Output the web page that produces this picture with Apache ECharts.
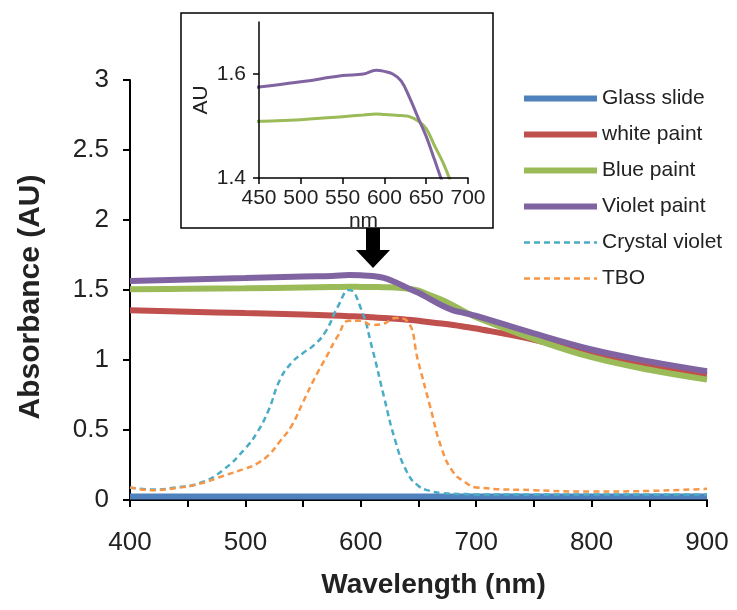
<!DOCTYPE html>
<html>
<head>
<meta charset="utf-8">
<script src="https://cdn.jsdelivr.net/npm/echarts@6/dist/echarts.min.js"></script>
<style>
  html, body { margin: 0; padding: 0; background: #fff; }
  #chart { width: 737px; height: 610px; }
</style>
</head>
<body>
<div id="chart"></div>
<script>
// wavelengths (nm) for the paint spectra
const paintWl = [400, 450, 500, 550, 575, 590, 600, 610, 620, 630, 640, 650, 660, 670, 680, 690, 700, 750, 800, 850, 900];
const whitePaint = [1.355, 1.345, 1.335, 1.325, 1.318, 1.313, 1.31, 1.305, 1.3, 1.295, 1.288, 1.28, 1.27, 1.26, 1.25, 1.238, 1.225, 1.145, 1.05, 0.965, 0.895];
const bluePaint = [1.505, 1.509, 1.512, 1.518, 1.521, 1.523, 1.522, 1.521, 1.52, 1.518, 1.51, 1.495, 1.462, 1.43, 1.39, 1.345, 1.305, 1.15, 1.02, 0.93, 0.86];
const violetPaint = [1.565, 1.575, 1.585, 1.597, 1.6, 1.607, 1.605, 1.6, 1.587, 1.555, 1.517, 1.48, 1.435, 1.39, 1.355, 1.335, 1.315, 1.19, 1.075, 0.99, 0.92];

const glassWl = [400, 500, 600, 700, 800, 900];
const glassSlide = [0.025, 0.025, 0.025, 0.025, 0.025, 0.025];

// wavelengths (nm) for the dye spectra
const dyeWl = [400, 420, 440, 460, 480, 500, 510, 520, 530, 540, 550, 560, 570, 580, 590, 600, 610, 620, 630, 640, 650, 660, 670, 680, 690, 700, 750, 800, 850, 900];
const crystalViolet = [0.09, 0.075, 0.09, 0.12, 0.21, 0.37, 0.48, 0.64, 0.86, 0.98, 1.05, 1.11, 1.21, 1.38, 1.5, 1.37, 1.08, 0.74, 0.42, 0.2, 0.1, 0.065, 0.05, 0.045, 0.042, 0.04, 0.04, 0.04, 0.04, 0.04];
const tbo = [0.09, 0.07, 0.085, 0.115, 0.17, 0.225, 0.26, 0.32, 0.42, 0.53, 0.7, 0.87, 1.02, 1.17, 1.28, 1.28, 1.25, 1.26, 1.3, 1.28, 0.98, 0.67, 0.37, 0.2, 0.13, 0.09, 0.07, 0.06, 0.065, 0.08];

const seriesNames = ['Glass slide', 'white paint', 'Blue paint', 'Violet paint', 'Crystal violet', 'TBO'];
const colors = ['#4F81BD', '#C0504D', '#9BBB59', '#8064A2', '#4BACC6', '#F79646'];

const zip = (xs, ys) => xs.map((x, i) => [x, ys[i]]);
const font = "'Liberation Sans', Arial, sans-serif";

let chart = echarts.init(document.getElementById('chart'));

let solid = function (name, color, xs, ys) {
  return {
    name: name, type: 'line', data: zip(xs, ys),
    symbol: 'none', smooth: 0.4,
    lineStyle: { color: color, width: 6 }, itemStyle: { color: color }
  };
};
let dashed = function (name, color, xs, ys) {
  return {
    name: name, type: 'line', data: zip(xs, ys),
    symbol: 'none', smooth: 0.5,
    lineStyle: { color: color, width: 2.5, type: [6, 4] }, itemStyle: { color: color }
  };
};
let inset = function (name, color, xs, ys) {
  return {
    name: name, type: 'line', data: zip(xs, ys),
    xAxisIndex: 1, yAxisIndex: 1,
    symbol: 'none', smooth: 0.4, z: 5,
    lineStyle: { color: color, width: 3 }, itemStyle: { color: color }
  };
};

let option = {
  animation: false,
  textStyle: { fontFamily: font },
  grid: [
    { left: 130, right: 30, top: 80, bottom: 110 },
    { left: 259, top: 22, width: 209, height: 156, z: 5 }
  ],
  legend: {
    data: seriesNames,
    orient: 'vertical',
    left: 516, top: 83,
    itemWidth: 73, itemHeight: 16, itemGap: 15,
    lineStyle: { width: 'inherit' },
    itemStyle: { opacity: 0, borderWidth: 0 },
    textStyle: { fontSize: 21, color: '#222', fontFamily: font }
  },
  xAxis: [
    {
      type: 'value', min: 400, max: 900, interval: 50,
      name: 'Wavelength (nm)', nameLocation: 'middle', nameGap: 71,
      nameTextStyle: { fontSize: 28, fontWeight: 'bold', color: '#222', fontFamily: font, padding: [0, 0, 0, 30] },
      axisLine: { lineStyle: { color: '#000', width: 2 } },
      axisTick: { length: 7, lineStyle: { color: '#000', width: 2 } },
      axisLabel: { fontSize: 26, color: '#222', margin: 30, formatter: v => (v % 100 === 0 ? String(v) : '') },
      splitLine: { show: false }
    },
    {
      type: 'value', gridIndex: 1, min: 450, max: 700, interval: 50, z: 6,
      name: 'nm', nameLocation: 'middle', nameGap: 33,
      nameTextStyle: { fontSize: 21, color: '#222', fontFamily: font },
      axisLine: { lineStyle: { color: '#000', width: 1.5 } },
      axisTick: { length: 6, lineStyle: { color: '#000', width: 1.5 } },
      axisLabel: { fontSize: 21, color: '#222', margin: 10 },
      splitLine: { show: false }
    }
  ],
  yAxis: [
    {
      type: 'value', min: 0, max: 3, interval: 0.5,
      name: 'Absorbance (AU)', nameLocation: 'middle', nameGap: 84, nameRotate: 90,
      nameTextStyle: { fontSize: 30, fontWeight: 'bold', color: '#222', fontFamily: font, padding: [0, 14, 0, 0] },
      axisLine: { show: true, lineStyle: { color: '#000', width: 2 } },
      axisTick: { show: true, length: 7, lineStyle: { color: '#000', width: 2 } },
      axisLabel: { fontSize: 26, color: '#222', margin: 21 },
      splitLine: { show: false }
    },
    {
      type: 'value', gridIndex: 1, min: 1.4, max: 1.7, interval: 0.2, z: 6,
      name: 'AU', nameLocation: 'middle', nameGap: 47, nameRotate: 90,
      nameTextStyle: { fontSize: 21, color: '#222', fontFamily: font },
      axisLine: { show: true, lineStyle: { color: '#000', width: 1.5 } },
      axisTick: { show: true, length: 6, customValues: [1.4, 1.6], lineStyle: { color: '#000', width: 1.5 } },
      axisLabel: { fontSize: 21, color: '#222', margin: 13, customValues: [1.4, 1.6], formatter: v => v.toFixed(1) },
      splitLine: { show: false }
    }
  ],
  graphic: [
    {
      type: 'rect', z: 1,
      shape: { x: 181, y: 13, width: 312, height: 215 },
      style: { fill: '#fff', stroke: '#000', lineWidth: 1.5 }
    },
    {
      // arrow pointing from the inset to the zoomed region
      type: 'polygon', z: 1,
      shape: { points: [[366, 228], [380, 228], [380, 250], [390, 250], [373, 268], [356, 250], [366, 250]] },
      style: { fill: '#000' }
    }
  ],
  series: [
    solid(seriesNames[0], colors[0], glassWl, glassSlide),
    solid(seriesNames[1], colors[1], paintWl, whitePaint),
    solid(seriesNames[2], colors[2], paintWl, bluePaint),
    solid(seriesNames[3], colors[3], paintWl, violetPaint),
    dashed(seriesNames[4], colors[4], dyeWl, crystalViolet),
    dashed(seriesNames[5], colors[5], dyeWl, tbo),
    inset(seriesNames[2], colors[2], paintWl, bluePaint),
    inset(seriesNames[3], colors[3], paintWl, violetPaint)
  ]
};

chart.setOption(option);
</script>
</body>
</html>
